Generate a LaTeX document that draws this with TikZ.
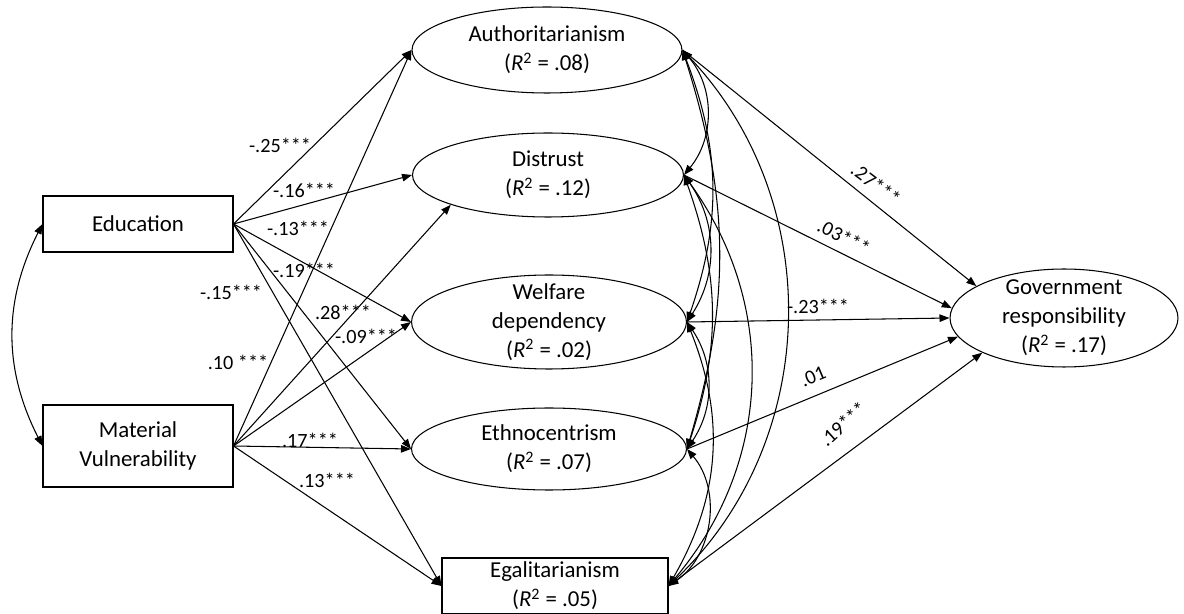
\documentclass[tikz,border=0pt]{standalone}
\usepackage{fontspec}
\setmainfont{Carlito}
\usetikzlibrary{shapes.geometric,arrows.meta}

\newcommand{\rsq}[1]{(\textit{R}\textsuperscript{2} = #1)}

\begin{document}
\begin{tikzpicture}[x=0.02cm,y=-0.02cm,
    every node/.style={font=\fontsize{13}{16.5}\selectfont},
    box/.style={draw,rectangle,line width=0.6pt,minimum width=3.8cm,align=center,inner sep=1pt},
    oval/.style={draw,ellipse,line width=0.6pt,inner sep=0pt},
    eff/.style={line width=0.6pt,-{Triangle[length=2mm,width=1.5mm]}},
    corr/.style={line width=0.6pt,{Triangle[length=2mm,width=1.5mm]}-{Triangle[length=2mm,width=1.5mm]}},
    coef/.style={font=\fontsize{11.5}{13}\selectfont,inner sep=1pt}]
    \useasboundingbox (0,0) rectangle (1184,614);
    % exogenous
    \node[box,minimum height=1.12cm] (edu) at (138,224) {Education};
    \node[box,minimum height=1.64cm] (mat) at (138,446) {Material\\Vulnerability};
    % mediators
    \node[oval,minimum width=5.4cm,minimum height=1.72cm,label={[align=center]center:Authoritarianism\\\rsq{.08}}] (auth) at (547,50) {};
    \node[oval,minimum width=5.42cm,minimum height=1.68cm,label={[align=center]center:Distrust\\\rsq{.12}}] (dist) at (548,175) {};
    \node[oval,minimum width=5.5cm,minimum height=1.88cm,label={[align=center]center:Welfare\\dependency\\\rsq{.02}}] (welf) at (549,322) {};
    \node[oval,minimum width=5.5cm,minimum height=1.64cm,label={[align=center]center:Ethnocentrism\\\rsq{.07}}] (ethno) at (549,449) {};
    \node[box,minimum width=4.52cm,minimum height=1.12cm] (egal) at (555,586) {Egalitarianism\\\rsq{.05}};
    % outcome
    \node[oval,minimum width=4.56cm,minimum height=1.96cm,label={[align=center]center:Government\\responsibility\\\rsq{.17}}] (gov) at (1064,318) {};

    \draw[corr] (edu.west) to[bend right=27] (mat.west);

    \draw[eff] (edu.east) -- (auth.west);
    \draw[eff] (edu.east) -- (dist.west);
    \draw[eff] (edu.east) -- (welf.west);
    \draw[eff] (edu.east) -- (ethno.west);
    \draw[eff] (edu.east) -- (egal.west);
    \draw[eff] (mat.east) -- (auth.west);
    \draw[eff] (mat.east) -- (dist.197);
    \draw[eff] (mat.east) -- (welf.west);
    \draw[eff] (mat.east) -- (ethno.west);
    \draw[eff] (mat.east) -- (egal.west);

    \draw[eff] (auth.east) -- (gov.160);
    \draw[eff] (dist.east) -- (gov.175);
    \draw[eff] (welf.east) -- (gov.west);
    \draw[eff] (ethno.east) -- (gov.190);
    \draw[eff] (egal.east) -- (gov.203);

    % covariances between mediators
    \draw[corr] (auth.east) to[bend left=40] (dist.east);
    \draw[corr] (dist.east) to[bend left=34] (welf.east);
    \draw[corr] (welf.east) to[bend left=34] (ethno.east);
    \draw[corr] (ethno.east) to[bend left=48] (egal.east);
    \draw[corr] (auth.east) to[bend left=20] (welf.east);
    \draw[corr] (dist.east) to[bend left=19] (ethno.east);
    \draw[corr] (welf.east) to[bend left=26] (egal.east);
    \draw[corr] (auth.east) to[bend left=17] (ethno.east);
    \draw[corr] (dist.east) to[bend left=38] (egal.east);
    \draw[corr] (auth.east) to[bend left=45] (egal.east);

    % coefficients
    \node[coef] (c-ea) at (280,145) {-.25***};
    \node[coef] (c-ed) at (304,190) {-.16***};
    \node[coef] (c-ew) at (298,228) {-.13***};
    \node[coef] (c-ee) at (304,270) {-.19***};
    \node[coef] (c-eg) at (231,292) {-.15***};
    \node[coef] (c-ma) at (238,362) {.10 ***};
    \node[coef] (c-md) at (343,312) {.28***};
    \node[coef] (c-mw) at (366,336) {-.09***};
    \node[coef] (c-me) at (310,440) {.17***};
    \node[coef] (c-mg) at (327,480) {.13***};
    \node[coef,rotate=-37] (c-ag) at (876,184) {.27***};
    \node[coef,rotate=-27] (c-dg) at (844,237) {.03***};
    \node[coef] (c-wg) at (818,306) {-.23***};
    \node[coef,rotate=23] (c-tg) at (813,377) {.01};
    \node[coef,rotate=42] (c-gg) at (843,424) {.19***};
\end{tikzpicture}
\end{document}
